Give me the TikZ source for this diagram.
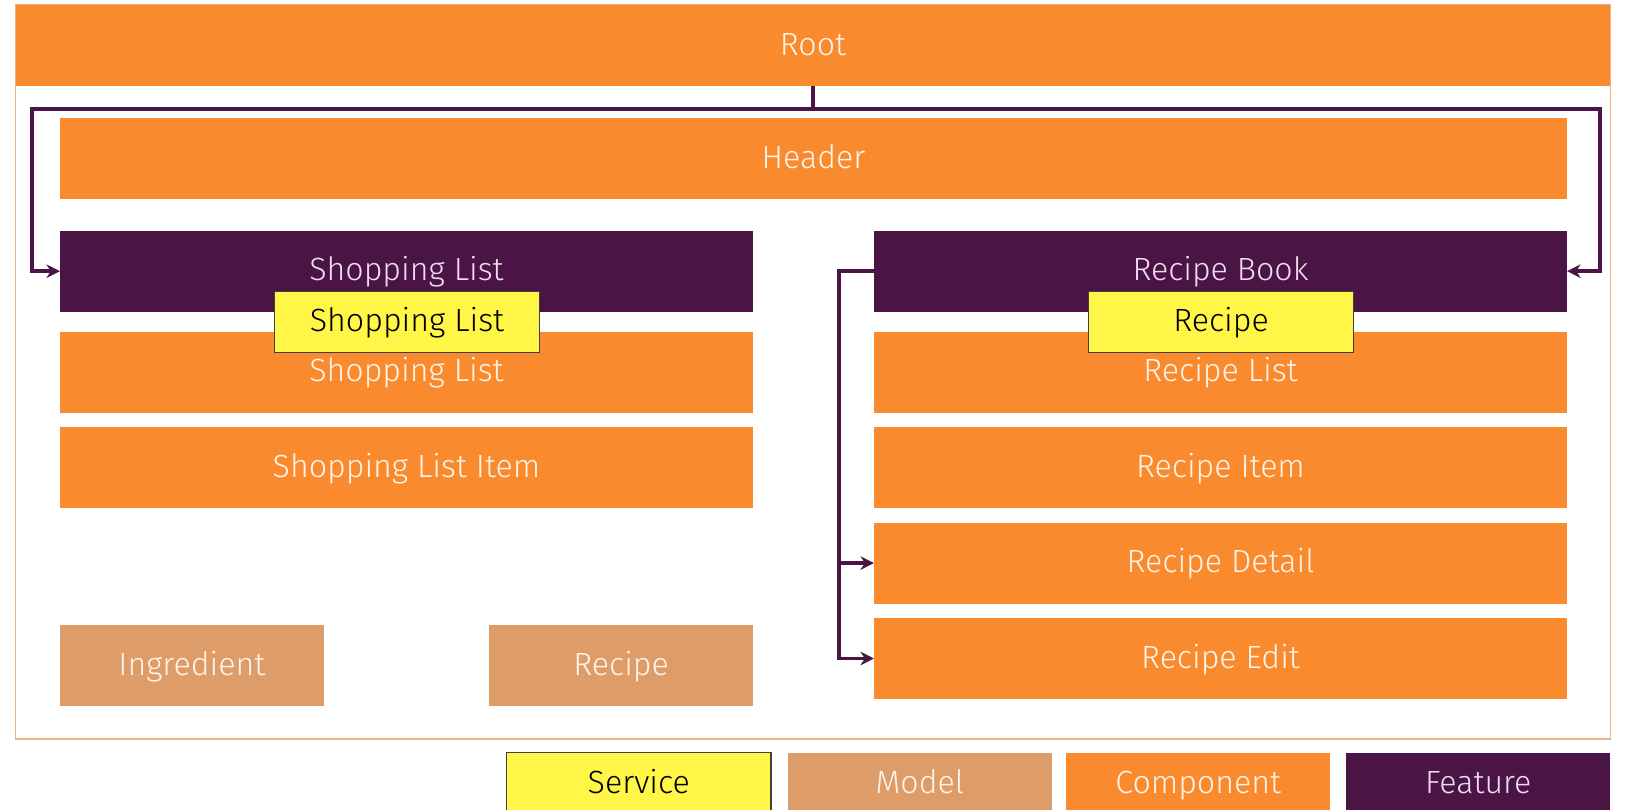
\documentclass[tikz,border=0pt]{standalone}
\usepackage{fontspec}
\setmainfont{Fira Sans Light}
\usepackage{tikz}
\usetikzlibrary{arrows.meta}
\definecolor{compcol}{HTML}{F98A2E}
\definecolor{featcol}{HTML}{4A1445}
\definecolor{servcol}{HTML}{FFF647}
\definecolor{modelcol}{HTML}{DE9C68}
\definecolor{framecol}{HTML}{EDB184}
\definecolor{featext}{HTML}{F2DCEF}
\definecolor{lighttext}{HTML}{FFF4EA}

\begin{document}
\begin{tikzpicture}[x=1pt, y=-1pt,
  box/.style={minimum height=78pt, inner sep=0pt, text height=24pt, text depth=5.5pt, text=lighttext, font=\fontsize{31}{36}\selectfont},
  comp/.style={box, fill=compcol, minimum width=668pt},
  feat/.style={box, fill=featcol, text=featext, minimum width=668pt},
  model/.style={box, fill=modelcol, minimum width=254pt},
  serv/.style={box, fill=servcol, draw=black!75, line width=1pt, text=black, minimum width=255pt, minimum height=59pt},
  link/.style={draw=featcol, line width=3.8pt, -{Stealth[length=13pt, width=13pt]}}]
  \clip (0,0) rectangle (1568,781);
  \fill[white] (0,0) rectangle (1568,781);
  \draw[framecol, line width=1.8pt] (15,5) rectangle (1553,713);
  \node[box, fill=compcol, minimum width=1538pt] (root) at (784,44) {Root};
  \node[box, fill=compcol, minimum width=1453pt] (header) at (784.5,153) {Header};
  \node[feat] (slfeat) at (392,261.5) {Shopping List};
  \node[feat] (rbfeat) at (1177,261.5) {Recipe Book};
  \node[comp] (slcomp) at (392,359) {Shopping List};
  \node[comp] (slitem) at (392,451) {Shopping List Item};
  \node[comp] (rlist) at (1177,359) {Recipe List};
  \node[comp] (ritem) at (1177,451) {Recipe Item};
  \node[comp] (rdetail) at (1177,543) {Recipe Detail};
  \node[comp] (redit) at (1177,635) {Recipe Edit};
  \node[serv] (slserv) at (392.5,310.5) {Shopping List};
  \node[serv] (rserv) at (1177.5,310.5) {Recipe};
  \node[model] (ingr) at (185,642) {Ingredient};
  \node[model] (rmodel) at (599,642) {Recipe};
  \node[serv, minimum height=60pt] (lserv) at (616,756) {Service};
  \node[model, minimum height=60pt] (lmodel) at (887,756) {Model};
  \node[box, fill=compcol, minimum width=255pt, minimum height=60pt] (lcomp) at (1155.5,756) {Component};
  \node[box, fill=featcol, text=featext, minimum width=255pt, minimum height=60pt] (lfeat) at (1425.5,756) {Feature};
  \coordinate (lturn) at (31,105);
  \coordinate (rturn) at (1543,105);
  \coordinate (rbturn) at (809,261.5);
  \draw[link] (root.south) |- (lturn) |- (slfeat.west);
  \draw[link] (root.south) |- (rturn) |- (rbfeat.east);
  \draw[link] (rbfeat.west) -- (rbturn) |- (redit.west);
  \draw[link] (rbturn |- rdetail.west) -- (rdetail.west);
\end{tikzpicture}
\end{document}
